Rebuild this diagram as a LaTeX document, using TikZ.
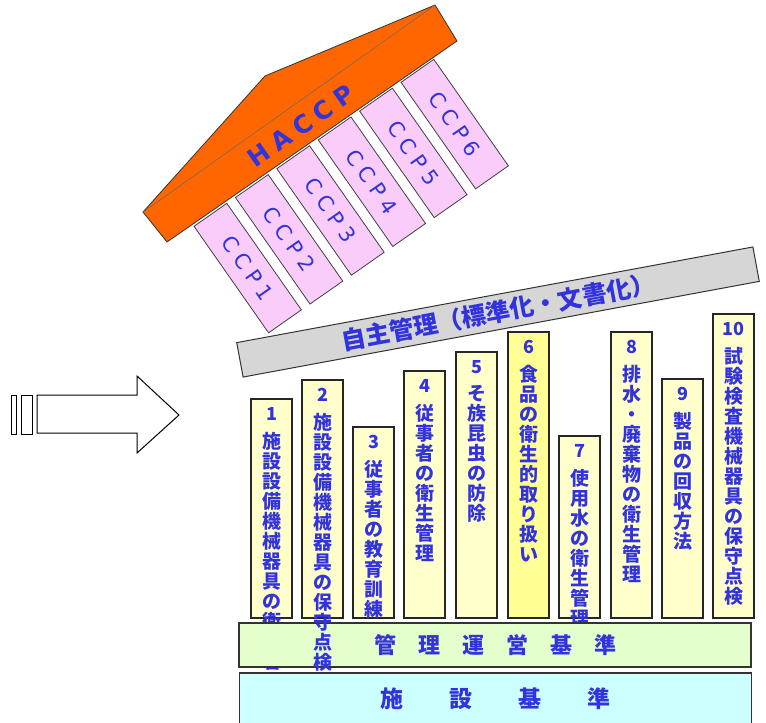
\documentclass[tikz,border=0pt]{standalone}
\usepackage{fontspec}
\newfontfamily\jp{Noto Sans CJK JP}
\newfontfamily\ccpfont[LetterSpace=28]{DejaVu Sans}

\definecolor{labelblue}{RGB}{51,51,221}
\definecolor{rooforange}{RGB}{255,102,0}
\definecolor{ccpfill}{RGB}{250,204,250}
\definecolor{pillarfill}{RGB}{255,255,204}
\definecolor{pillarhigh}{RGB}{255,255,150}
\definecolor{beamgray}{RGB}{214,214,214}
\definecolor{kanrifill}{RGB}{228,255,204}
\definecolor{shisetsufill}{RGB}{204,255,255}

% one character per line
\newcommand\tate[1]{\expandafter\tateloop#1\relax}
\def\tateloop#1{\ifx\relax#1\else#1\\\expandafter\tateloop\fi}

\tikzset{
  pillar/.style={draw=black!85, line width=1.2pt, fill=pillarfill,
    minimum width=41pt, anchor=south west, inner sep=0pt, outer sep=0pt},
  pillarhi/.style={pillar, fill=pillarhigh},
  num/.style={text=labelblue, font=\jp\bfseries\fontsize{18}{20}\selectfont, inner sep=0pt},
  tatetext/.style={text=labelblue, font=\jp\bfseries\fontsize{19}{20}\selectfont,
    align=center, anchor=north, inner sep=0pt},
  ccp/.style={draw=black!75, line width=0.8pt, fill=ccpfill, rotate=-55,
    minimum width=130pt, minimum height=40pt, inner sep=0pt,
    text=labelblue, font=\ccpfont\fontsize{21}{23}\selectfont},
  base/.style={draw=black!80, line width=1.2pt, minimum width=512pt, inner sep=0pt,
    text=labelblue},
}

\begin{document}
\begin{tikzpicture}[x=1pt,y=-1pt]
  \useasboundingbox (0,0) rectangle (766,723);

  % arrow
  \draw[line width=1pt] (37,395) -- (137,395) -- (137,376) -- (179,415)
    -- (137,453) -- (137,433) -- (37,433) -- cycle;
  \draw[line width=1pt] (11,395) rectangle (16,434);
  \draw[line width=1pt] (21,395) rectangle (32,434);

  % CCP pillars and roof
  \foreach \i in {1,...,6}
    \node[ccp] (ccp\i) at ({247.7+41.4*(\i-1)},{268.1-28.8*(\i-1)}) {CCP\i};
  \filldraw[fill=rooforange, draw=black!80, line width=0.8pt]
    (143,212) -- (265,76) -- (435,5) -- (457,41) -- (167,242) -- cycle;
  \draw[black!60, line width=0.5pt] (143,212) -- (435,5);
  \node[rotate=35, text=labelblue, font=\ccpfont\bfseries\fontsize{25}{27}\selectfont]
    (haccp) at (301,126) {HACCP};

  % beam
  \node[draw=black!80, line width=1pt, fill=beamgray, rotate=10.5,
    minimum width=525pt, minimum height=35pt, inner sep=0pt, text=labelblue,
    font=\jp\bfseries\fontsize{24.5}{26}\selectfont]
    (jishu) at (498,312) {自主管理（標準化・文書化）};

  % ten pillars
  \foreach \i/\x/\t/\f in {1/251/399/pillar, 2/302/380/pillar, 3/353/427/pillar,
      4/404/371/pillar, 5/456/352/pillar, 6/508/332/pillarhi, 7/559/436/pillar,
      8/611/332/pillar, 9/662/379/pillar, 10/713/314/pillar} {
    \node[\f, minimum height=618-\t] (p\i) at (\x,618) {};
    \node[num] (n\i) at ([yshift=-15pt]p\i.north) {\i};
  }
  \foreach \i/\s in {1/施設設備機械器具の衛生管理, 3/従事者の教育訓練,
      4/従事者の衛生管理, 5/そ族昆虫の防除, 6/食品の衛生的取り扱い,
      7/使用水の衛生管理, 8/排水・廃棄物の衛生管理, 9/製品の回収方法,
      10/試験検査機械器具の保守点検}
    \node[tatetext] (t\i) at ([yshift=-33pt]p\i.north) {\tate{\s}};

  % base
  \node[base, fill=kanrifill, minimum height=44pt,
    font=\jp\bfseries\fontsize{22}{24}\selectfont]
    (kanri) at (495,645) {管　理　運　営　基　準};
  \node[base, fill=shisetsufill, minimum height=52pt,
    font=\jp\bfseries\fontsize{23}{25}\selectfont]
    (shisetsu) at (495.5,699) {施　　設　　基　　準};

  \node[tatetext] (t2) at ([yshift=-33pt]p2.north) {\tate{施設設備機械器具の保守点検}};
\end{tikzpicture}
\end{document}
